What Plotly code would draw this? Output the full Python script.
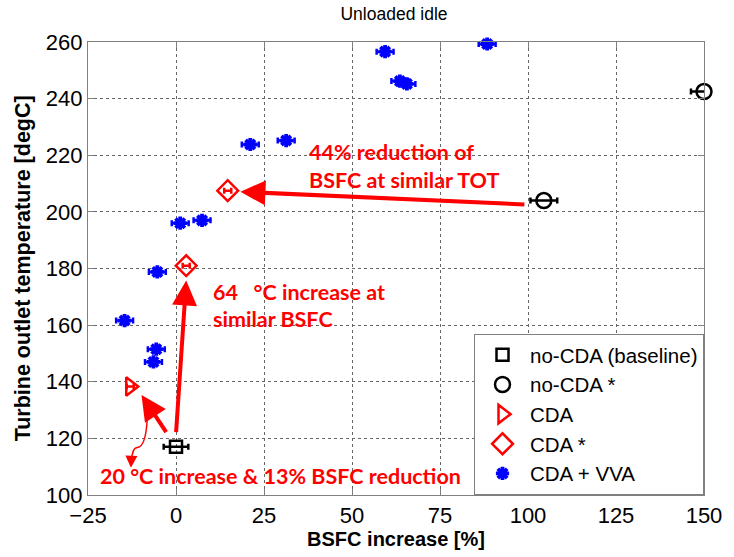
import plotly.graph_objects as go

# ---- data ----
base_x = [0.0]
base_y = [117.0]
base_err = [3.5]

nocda_x = [104.5, 150.0]
nocda_y = [204.0, 242.5]
nocda_err = [3.8, 3.7]

cda_x = [-13.0]
cda_y = [138.3]
cda_err = [1.0]

cdas_x = [2.9, 14.7]
cdas_y = [181.0, 207.5]
cdas_err = [1.0, 1.0]

vva_x = [88.4, 59.4, 63.6, 65.6, 21.1, 31.3, 1.2, 7.4, -5.3, -14.6, -5.6, -6.4]
vva_y = [259.3, 256.6, 246.2, 245.2, 223.8, 225.2, 196.0, 197.0, 178.8, 161.6, 151.5, 147.0]
vva_err = [2.4] * 12

x_ticks = [-25, 0, 25, 50, 75, 100, 125, 150]
y_ticks = [100, 120, 140, 160, 180, 200, 220, 240, 260]

RED = "#FF0000"
BLUE = "#0000FF"
AX_FONT = "Liberation Sans, Arial"

fig = go.Figure()

def add(name, xs, ys, errs, symbol, color, size, lw):
    fig.add_trace(go.Scatter(
        x=xs, y=ys, mode="markers", name=name, legendgroup=name,
        marker=dict(symbol=symbol, size=size, color=color,
                    line=dict(color=color, width=lw)),
        error_x=dict(type="data", array=errs, visible=True, color=color,
                     thickness=2.5, width=3),
        cliponaxis=False,
    ))

add("no-CDA (baseline)", base_x, base_y, base_err, "square-open", "black", 12, 2.5)
add("no-CDA *", nocda_x, nocda_y, nocda_err, "circle-open", "black", 15, 2.5)
add("CDA", cda_x, cda_y, cda_err, "triangle-right-open", RED, 16, 2.5)
add("CDA *", cdas_x, cdas_y, cdas_err, "diamond-open", RED, 16, 2.5)
add("CDA + VVA", vva_x, vva_y, vva_err, "asterisk-open", BLUE, 11, 3.8)

# ---- arrows ----
arrows = [
    # (tip_x, tip_y, tail_x, tail_y)
    (18.3, 207.1, 99.4, 202.6),
    (2.9, 175.8, 0.0, 121.7),
    (-9.8, 135.3, -2.5, 121.7),
]
for tx, ty, sx, sy in arrows:
    fig.add_annotation(x=tx, y=ty, ax=sx, ay=sy, xref="x", yref="y",
                       axref="x", ayref="y", showarrow=True, text="",
                       arrowhead=2, arrowsize=1.25, arrowwidth=4,
                       arrowcolor=RED, standoff=0)

# thin curved arrow
fig.add_shape(type="path", xref="x", yref="y",
              path="M -8.2,126.2 Q -8.7,116.8 -11.0,116.8 Q -12.4,116.8 -12.7,112.0",
              line=dict(color=RED, width=1.5))
fig.add_annotation(x=-12.8, y=109.6, ax=-12.7, ay=112.8, xref="x", yref="y",
                   axref="x", ayref="y", showarrow=True, text="",
                   arrowhead=2, arrowsize=1.6, arrowwidth=1.5,
                   arrowcolor=RED, standoff=0)

tfont = dict(family="Lato, Open Sans, sans-serif", size=21.5, color=RED, weight="bold")
texts = [
    ("44% reduction of", 37.3, 221.2, "left"),
    ("BSFC at similar TOT", 37.3, 211.1, "left"),
    ("64\u00a0\u00a0 °C increase at", 9.8, 171.6, "left"),
    ("similar BSFC", 9.8, 162.2, "left"),
    ("20 °C increase & 13% BSFC reduction", 29.7, 106.6, "center"),
]
for t, x, y, anc in texts:
    fig.add_annotation(x=x, y=y, xref="x", yref="y", text=t, showarrow=False,
                       xanchor=anc, yanchor="middle", font=tfont)

# y-axis title
fig.add_annotation(x=(22 - 88) / 624, y=0.5, xref="paper", yref="paper",
                   text="<b>Turbine outlet temperature [degC]</b>", textangle=-90,
                   showarrow=False, xanchor="center", yanchor="middle",
                   font=dict(family=AX_FONT, size=21.5, color="black"))

axis_common = dict(
    showgrid=True, griddash="dot", gridcolor="#666", gridwidth=1,
    showline=True, linecolor="#808080", linewidth=1.2, mirror="allticks",
    ticks="inside", ticklen=6, tickcolor="#808080",
    tickfont=dict(family=AX_FONT, size=22, color="black"),
    zeroline=False,
)

fig.update_layout(
    width=734, height=557,
    margin=dict(l=88, r=22, t=42, b=57),
    paper_bgcolor="white", plot_bgcolor="white",
    title=dict(text="Unloaded idle", x=394 / 734, xanchor="center", y=1 - 14 / 557,
               yanchor="middle",
               font=dict(family=AX_FONT, size=17.5, color="black")),
    xaxis=dict(range=[-25, 150], tickvals=x_ticks, **axis_common,
               title=dict(text="<b>BSFC increase [%]</b>", standoff=3,
                          font=dict(family=AX_FONT, size=20, color="black"))),
    yaxis=dict(range=[100, 260], tickvals=y_ticks, **axis_common),
    legend=dict(x=1, y=0, xanchor="right", yanchor="bottom",
                bgcolor="white", bordercolor="#808080", borderwidth=1,
                font=dict(family=AX_FONT, size=20.5, color="black"),
                tracegroupgap=0, itemwidth=45),
    showlegend=True,
)

fig.write_html("out.html")
